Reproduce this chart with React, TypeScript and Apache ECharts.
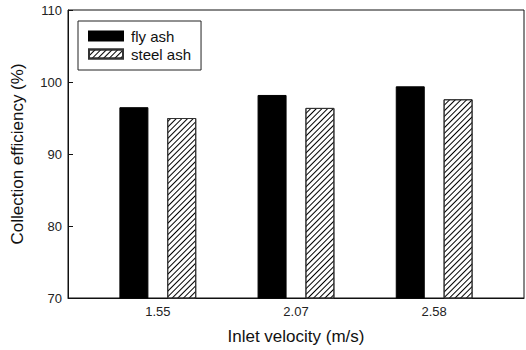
import React, { useEffect, useRef } from "react";
import * as echarts from "echarts";

const velocities = ["1.55", "2.07", "2.58"];
const positions = [1, 2, 3];
const flyAsh = [96.5, 98.2, 99.4];
const steelAsh = [95.0, 96.4, 97.6];
const seriesNames = ["fly ash", "steel ash"];
const yTicks = { min: 70, max: 110, interval: 10 };

const FONT = "'Liberation Sans', Arial, Helvetica, sans-serif";

export default function App() {
  const ref = useRef<HTMLDivElement>(null);
  useEffect(() => {
    if (!ref.current) return;
    const chart = echarts.init(ref.current, null, { renderer: "svg" });
    const hatch = {
      symbol: "rect",
      symbolSize: 1,
      color: "#000",
      backgroundColor: "#fff",
      dashArrayX: [[1, 0]],
      dashArrayY: [1, 3],
      rotation: -Math.PI / 4,
    };
    chart.setOption({
      animation: false,
      backgroundColor: "#fff",
      textStyle: { fontFamily: FONT },
      grid: {
        left: 68,
        right: 2,
        top: 10,
        bottom: 49,
        show: true,
        borderColor: "#111",
        borderWidth: 1,
        backgroundColor: "transparent",
      },
      legend: {
        orient: "vertical",
        left: 78,
        top: 21,
        padding: [7, 10, 8, 10],
        borderColor: "#222",
        borderWidth: 1,
        itemWidth: 34,
        itemHeight: 9,
        itemGap: 2,
        icon: "rect",
        data: seriesNames,
        textStyle: {
          fontFamily: FONT,
          fontSize: 15,
          color: "#111",
          lineHeight: 16,
          padding: [0, 0, 0, 3],
        },
      },
      xAxis: {
        type: "value",
        min: 0.35,
        max: 3.65,
        splitLine: { show: false },
        axisLine: { show: true, onZero: false, lineStyle: { color: "#111", width: 1 } },
        axisTick: { show: false },
        axisLabel: {
          customValues: positions,
          formatter: (v: number) => {
            const i = positions.indexOf(Math.round(v));
            return i >= 0 ? velocities[i] : "";
          },
          fontFamily: FONT,
          fontSize: 13,
          color: "#222",
          margin: 7,
        },
        name: "Inlet velocity (m/s)",
        nameLocation: "middle",
        nameGap: 30,
        nameTextStyle: { fontFamily: FONT, fontSize: 17, color: "#111" },
      },
      yAxis: {
        type: "value",
        min: yTicks.min,
        max: yTicks.max,
        interval: yTicks.interval,
        splitLine: { show: false },
        axisLine: { show: true, onZero: false, lineStyle: { color: "#111", width: 1 } },
        axisTick: { show: true, inside: true, length: 5, lineStyle: { color: "#111" } },
        axisLabel: { fontFamily: FONT, fontSize: 13, color: "#222", margin: 6 },
        name: "Collection efficiency (%)",
        nameLocation: "middle",
        nameGap: 42,
        nameTextStyle: { fontFamily: FONT, fontSize: 17, color: "#111" },
      },
      series: [
        {
          name: seriesNames[0],
          type: "bar",
          barWidth: 29,
          barGap: "65%",
          data: positions.map((p, i) => [p, flyAsh[i]]),
          itemStyle: { color: "#000", borderColor: "#000", borderWidth: 1 },
        },
        {
          name: seriesNames[1],
          type: "bar",
          barWidth: 29,
          barGap: "65%",
          data: positions.map((p, i) => [p, steelAsh[i]]),
          itemStyle: {
            color: "#fff",
            borderColor: "#333",
            borderWidth: 1,
            decal: hatch,
          },
        },
      ],
    });
    return () => chart.dispose();
  }, []);
  return <div ref={ref} style={{ width: 526, height: 350, position: "absolute", left: 0, top: 0 }} />;
}
